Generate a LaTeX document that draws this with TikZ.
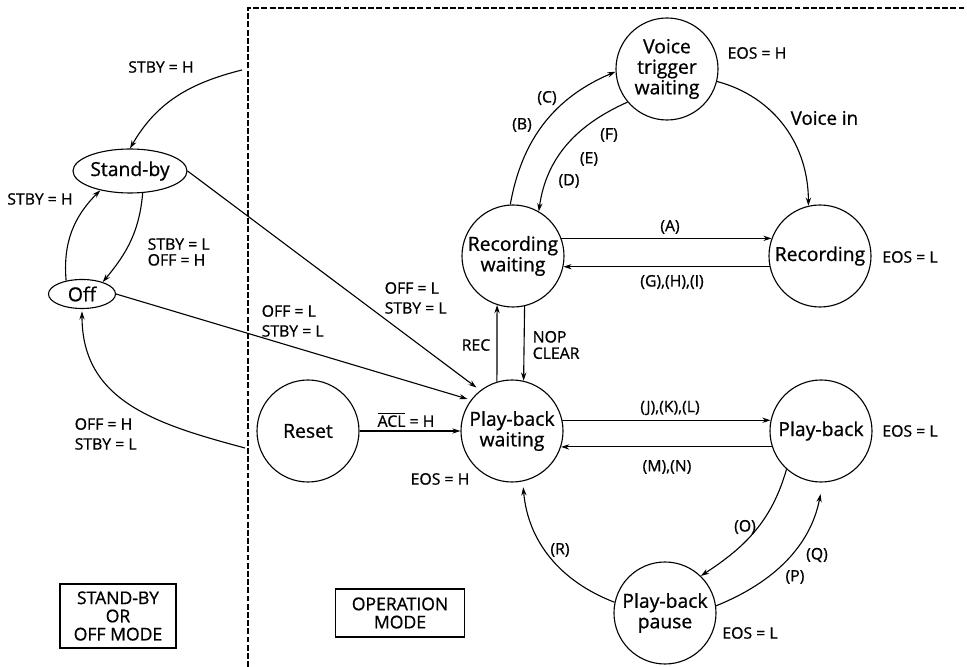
\documentclass[tikz,border=0pt]{standalone}
\usepackage{fontspec}
\setmainfont{Open Sans}[FakeBold=0.8]
\usetikzlibrary{arrows.meta, shapes.geometric}

\begin{document}
\begin{tikzpicture}[x=0.03cm, y=0.03cm, line width=0.95pt,
    >={Stealth[length=7pt, width=4.5pt]},
    circ/.style={circle, draw, minimum size=3.06cm, inner sep=0pt, align=center,
        font={\fontsize{16.5}{17.5}\selectfont}},
    oval/.style={ellipse, draw, inner sep=0pt, font={\fontsize{16.5}{17.5}\selectfont}},
    lab/.style={inner sep=1pt, align=left, font={\fontsize{13.5}{17}\selectfont}},
    modebox/.style={draw, align=center, inner sep=0pt, font={\fontsize{15}{15.5}\selectfont}}]

        \useasboundingbox (0,0) rectangle (967,667);

        % Frame of the operation mode
        \coordinate (F1) at (248,0);        % Bottom of frame
        \coordinate (F2) at (248,659);      % Corner of frame
        \coordinate (F3) at (967,659);      % Right end of frame
        \draw[dash pattern=on 5pt off 2pt] (F1) -- (F2) -- (F3);

        % Stand-by and off states
        \node[oval, minimum width=3.42cm, minimum height=1.32cm] (stby) at (130,496) {Stand-by};
        \node[oval, minimum width=2.01cm, minimum height=0.87cm] (off) at (82,373) {Off};

        % Operation states
        \node[circ] (vtw) at (667,598) {Voice\\trigger\\waiting};
        \node[circ] (recw) at (513,411) {Recording\\waiting};
        \node[circ] (rec) at (820,411) {Recording};
        \node[circ] (reset) at (308,236) {Reset};
        \node[circ] (pbw) at (512,236) {Play-back\\waiting};
        \node[circ] (pb) at (821,236) {Play-back};
        \node[circ] (pbp) at (665,54) {Play-back\\pause};

        % Mode boxes
        \node[modebox, minimum width=3.48cm, minimum height=1.92cm] (smode) at (118,51) {STAND-BY\\OR\\OFF MODE};
        \node[modebox, minimum width=3.87cm, minimum height=1.44cm] (omode) at (400,54) {OPERATION\\MODE};

        % Free ends at the frame
        \coordinate (sbin) at (242,597);    % Into stand-by
        \coordinate (sbout) at (245,219);   % Out to off

        % Stand-by / off transitions
        \draw[->] (sbin) to[out=194, in=60] (stby.north);
        \draw[->] (off.140) to[out=95, in=225] (stby.213);
        \draw[->] (stby.300) to[out=265, in=50] (off.30);
        \draw[->, shorten >=2pt] (sbout) to[out=165, in=-90, looseness=1.1] (off.south);
        \draw[->, shorten >=4pt] (stby.east) -- (pbw.128);
        \draw[->, shorten >=3pt] (off.east) -- (pbw.143);

        % Recording transitions
        \draw[->] (recw.93) to[out=80, in=203] (vtw.183);
        \draw[->] (vtw.220) to[out=204, in=82] (recw.60);
        \draw[->] (vtw.346) to[out=-15, in=90] (rec.103);
        \draw[->] (recw.20) -- (rec.160);
        \draw[->] (rec.192) -- (recw.348);
        \draw[->] (pbw.107) -- (recw.252);
        \draw[->] (recw.283) -- (pbw.77);

        % Play-back transitions
        \draw[->] (reset) -- (pbw);
        \draw[->] (pbw.12) -- (pb.168);
        \draw[->] (pb.198) -- (pbw.342);
        \draw[->] (pb.228) to[out=254, in=33] (pbp.46);
        \draw[->, shorten >=10pt] (pbp.8) to[out=22, in=259] (pb.272);
        \draw[->, shorten >=5pt] (pbp.168) to[out=159, in=-85] (pbw.282);

        % Labels of the stand-by side
        \node[lab] (l1) at (161,600) {STBY = H};
        \node[lab] (l2) at (40,468) {STBY = H};
        \node[lab, anchor=west, font={\fontsize{13.5}{13.5}\selectfont}] (l3) at (146,415) {STBY = L\\OFF = H};
        \node[lab, anchor=west] (l4) at (383,369) {OFF = L\\STBY = L};
        \node[lab, anchor=west] (l5) at (260,346) {OFF = L\\STBY = L};
        \node[lab, anchor=west] (l6) at (73,233) {OFF = H\\STBY = L};

        % Labels of the operation side
        \node[lab] (lc) at (547,569) {(C)};
        \node[lab] (lb) at (522,542) {(B)};
        \node[lab] (lf) at (609,532) {(F)};
        \node[lab] (le) at (589,508) {(E)};
        \node[lab] (ld) at (569,486) {(D)};
        \node[lab, anchor=west, font={\fontsize{16}{17}\selectfont}] (lv) at (789,549) {Voice in};
        \node[lab] (la) at (670,440) {(A)};
        \node[lab] (lg) at (672,385) {(G),(H),(I)};
        \node[lab] (lr) at (476,322) {REC};
        \node[lab, anchor=west, font={\fontsize{13.5}{14}\selectfont}] (ln) at (531,322) {NOP\\CLEAR};
        \node[lab] (lacl) at (406,247) {$\overline{\hbox{ACL}}$ = H};
        \node[lab] (lj) at (670,259) {(J),(K),(L)};
        \node[lab] (lm) at (667,200) {(M),(N)};
        \node[lab] (lo) at (745,140) {(O)};
        \node[lab] (lq) at (817,112) {(Q)};
        \node[lab] (lp) at (795,90) {(P)};
        \node[lab] (lrr) at (560,117) {(R)};

        % End of sequence levels
        \node[lab] (e1) at (757,614) {EOS = H};
        \node[lab] (e2) at (910,410) {EOS = L};
        \node[lab] (e3) at (910,236) {EOS = L};
        \node[lab] (e4) at (750,34) {EOS = L};
        \node[lab] (e5) at (440,188) {EOS = H};
    \end{tikzpicture}
\end{document}
